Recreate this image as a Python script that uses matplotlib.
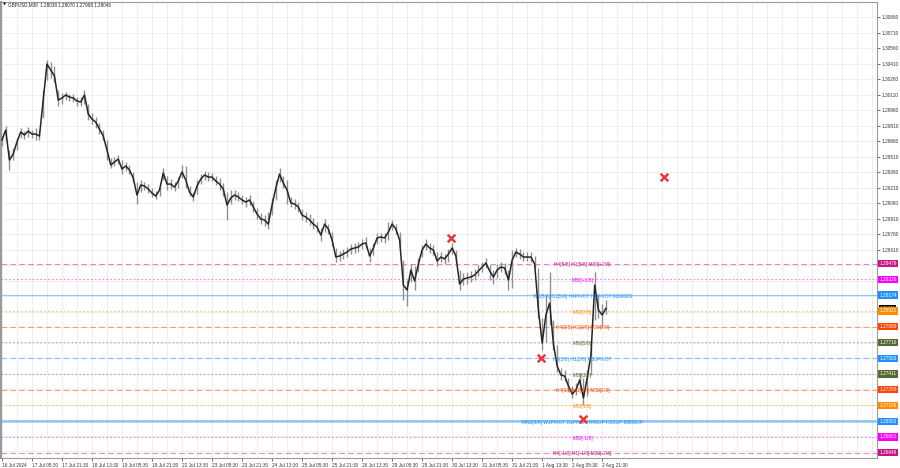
import matplotlib
matplotlib.use("Agg")
import matplotlib.pyplot as plt
import matplotlib.transforms as mtransforms

plt.rcParams['font.family'] = ['Liberation Sans', 'DejaVu Sans']

# chart header
symbol_info = "GBPUSD,M30  1.28038 1.28070 1.27998 1.28046"

# GBPUSD in groups of 4 x M30 bars (close, high, low)
closes = [
    1.29674, 1.29771, 1.29481, 1.29539, 1.29655, 1.29752, 1.29723, 1.29761, 1.29732, 1.29732,
    1.29713, 1.30061, 1.30410, 1.30352, 1.30294, 1.30061, 1.30081, 1.30110, 1.30090, 1.30081,
    1.30052, 1.30042, 1.30110, 1.29926, 1.29877, 1.29848, 1.29781, 1.29713, 1.29578, 1.29432,
    1.29461, 1.29490, 1.29394, 1.29423, 1.29384, 1.29307, 1.29142, 1.29239, 1.29229, 1.29200,
    1.29161, 1.29132, 1.29190, 1.29355, 1.29248, 1.29248, 1.29219, 1.29278, 1.29365, 1.29287,
    1.29171, 1.29123, 1.29229, 1.29297, 1.29336, 1.29316, 1.29316, 1.29278, 1.29248, 1.29200,
    1.29045, 1.29113, 1.29142, 1.29123, 1.29094, 1.29074, 1.29094, 1.29026, 1.28958, 1.28910,
    1.28900, 1.28861, 1.29045, 1.29210, 1.29345, 1.29258, 1.29190, 1.29065, 1.29055, 1.29026,
    1.28948, 1.28929, 1.28900, 1.28861, 1.28832, 1.28755, 1.28861, 1.28813, 1.28707, 1.28542,
    1.28552, 1.28571, 1.28590, 1.28619, 1.28629, 1.28639, 1.28668, 1.28678, 1.28552, 1.28629,
    1.28726, 1.28736, 1.28726, 1.28784, 1.28861, 1.28813, 1.28707, 1.28271, 1.28223, 1.28416,
    1.28310, 1.28474, 1.28610, 1.28668, 1.28629, 1.28610, 1.28503, 1.28542, 1.28523, 1.28571,
    1.28629, 1.28552, 1.28281, 1.28329, 1.28339, 1.28349, 1.28368, 1.28407, 1.28445, 1.28484,
    1.28407, 1.28349, 1.28416, 1.28445, 1.28436, 1.28319, 1.28513, 1.28590, 1.28571, 1.28542,
    1.28542, 1.28542, 1.28474, 1.28029, 1.27710, 1.27981, 1.28097, 1.27700, 1.27487, 1.27400,
    1.27390, 1.27294, 1.27216, 1.27255, 1.27352, 1.27178, 1.27371, 1.27594, 1.28271, 1.28029,
    1.27981, 1.28046,
]
highs = [
    1.29713, 1.29810, 1.29578, 1.29597, 1.29694, 1.29790, 1.29761, 1.29800, 1.29771, 1.29790,
    1.29771, 1.30158, 1.30448, 1.30429, 1.30390, 1.30158, 1.30129, 1.30139, 1.30119, 1.30119,
    1.30090, 1.30090, 1.30158, 1.30023, 1.29936, 1.29897, 1.29839, 1.29771, 1.29674, 1.29500,
    1.29510, 1.29529, 1.29481, 1.29461, 1.29432, 1.29365, 1.29268, 1.29287, 1.29268, 1.29248,
    1.29210, 1.29181, 1.29239, 1.29403, 1.29326, 1.29297, 1.29268, 1.29316, 1.29432, 1.29423,
    1.29229, 1.29171, 1.29287, 1.29345, 1.29374, 1.29365, 1.29355, 1.29326, 1.29307, 1.29258,
    1.29171, 1.29190, 1.29190, 1.29171, 1.29142, 1.29123, 1.29142, 1.29084, 1.29016, 1.28968,
    1.28948, 1.28978, 1.29113, 1.29287, 1.29403, 1.29326, 1.29287, 1.29123, 1.29103, 1.29074,
    1.29007, 1.28978, 1.28958, 1.28919, 1.28881, 1.28823, 1.28910, 1.28861, 1.28784, 1.28629,
    1.28600, 1.28619, 1.28639, 1.28668, 1.28678, 1.28687, 1.28716, 1.28736, 1.28629, 1.28678,
    1.28774, 1.28774, 1.28774, 1.28881, 1.28900, 1.28861, 1.28784, 1.28513, 1.28319, 1.28474,
    1.28455, 1.28532, 1.28658, 1.28716, 1.28678, 1.28658, 1.28590, 1.28590, 1.28571, 1.28619,
    1.28678, 1.28610, 1.28416, 1.28387, 1.28397, 1.28407, 1.28426, 1.28465, 1.28494, 1.28532,
    1.28465, 1.28416, 1.28474, 1.28494, 1.28484, 1.28416, 1.28610, 1.28629, 1.28619, 1.28590,
    1.28590, 1.28590, 1.28552, 1.28436, 1.27952, 1.28174, 1.28397, 1.27932, 1.27690, 1.27468,
    1.27449, 1.27371, 1.27294, 1.27323, 1.27420, 1.27371, 1.27449, 1.27690, 1.28397, 1.28174,
    1.28087, 1.28126,
]
lows = [
    1.29616, 1.29674, 1.29384, 1.29481, 1.29578, 1.29694, 1.29684, 1.29703, 1.29694, 1.29674,
    1.29674, 1.29887, 1.30255, 1.30274, 1.30236, 1.30003, 1.30023, 1.30061, 1.30052, 1.30042,
    1.30003, 1.30003, 1.30023, 1.29868, 1.29829, 1.29790, 1.29732, 1.29674, 1.29481, 1.29403,
    1.29423, 1.29442, 1.29345, 1.29374, 1.29345, 1.29268, 1.29055, 1.29171, 1.29190, 1.29161,
    1.29123, 1.29103, 1.29132, 1.29287, 1.29190, 1.29200, 1.29181, 1.29210, 1.29307, 1.29210,
    1.29132, 1.29084, 1.29152, 1.29248, 1.29287, 1.29278, 1.29278, 1.29239, 1.29190, 1.29132,
    1.28900, 1.29055, 1.29094, 1.29084, 1.29055, 1.29026, 1.29045, 1.28978, 1.28910, 1.28861,
    1.28842, 1.28813, 1.28948, 1.29094, 1.29268, 1.29210, 1.29055, 1.29026, 1.29007, 1.28978,
    1.28900, 1.28881, 1.28852, 1.28813, 1.28784, 1.28697, 1.28784, 1.28765, 1.28649, 1.28494,
    1.28503, 1.28523, 1.28542, 1.28571, 1.28581, 1.28590, 1.28619, 1.28629, 1.28494, 1.28561,
    1.28668, 1.28687, 1.28678, 1.28707, 1.28803, 1.28765, 1.28649, 1.28126, 1.28068, 1.28300,
    1.28223, 1.28397, 1.28542, 1.28610, 1.28581, 1.28561, 1.28455, 1.28494, 1.28474, 1.28494,
    1.28571, 1.28494, 1.28223, 1.28271, 1.28281, 1.28300, 1.28319, 1.28358, 1.28397, 1.28436,
    1.28319, 1.28281, 1.28339, 1.28397, 1.28378, 1.28223, 1.28242, 1.28542, 1.28523, 1.28503,
    1.28503, 1.28494, 1.28436, 1.27952, 1.27642, 1.27720, 1.27884, 1.27642, 1.27429, 1.27352,
    1.27342, 1.27236, 1.27178, 1.27207, 1.27255, 1.27110, 1.27197, 1.27400, 1.27932, 1.27952,
    1.27874, 1.27990,
]
bars_per_group = 4

date_labels = [
    "16 Jul 2024", "17 Jul 05:30", "17 Jul 21:30", "18 Jul 13:30", "19 Jul 05:30",
    "19 Jul 21:30", "22 Jul 13:30", "23 Jul 05:30", "23 Jul 21:30", "24 Jul 13:30",
    "25 Jul 05:30", "25 Jul 21:30", "26 Jul 13:30", "29 Jul 05:30", "29 Jul 21:30",
    "30 Jul 13:30", "31 Jul 05:30", "31 Jul 21:30", "1 Aug 13:30", "2 Aug 05:30",
    "2 Aug 21:30",
]
bars_per_label = 32

# Murrey math levels
level_prices = [1.28479, 1.28326, 1.28174, 1.28021, 1.27869, 1.27716, 1.27563,
                1.27411, 1.27258, 1.27106, 1.26953, 1.26801, 1.26648]
level_names = [
    "H4[5/8] H1[5/8] M30[+2/8]",
    "M30[+1/8]",
    "W1[5/8] D1[5/8] H4PIVOT H1PIVOT M30RES",
    "M30[7/8]",
    "H4[3/8] H1[3/8] M30[6/8]",
    "M30[5/8]",
    "H4[2/8] H1[2/8] M30PIVOT",
    "M30[3/8]",
    "H4[1/8] H1[1/8] M30[2/8]",
    "M30[1/8]",
    "MN1[6/8] W1PIVOT D1PIVOT H4SUP H1SUP M30SUP",
    "M30[-1/8]",
    "H4[-1/8] H1[-1/8] M30[-2/8]",
]
level_kinds = ["extreme", "overshoot", "res", "weak", "reversal", "minor", "mid",
               "minor", "reversal", "weak", "sup", "overshoot", "extreme"]

# signal crosses (bar index, price)
signal_bars = [479, 575, 706, 620]
signal_prices = [1.28726, 1.27565, 1.29316, 1.26974]

current_price = 1.28046

# price ticks shown on the right scale
first_tick = 1.28610
tick_step = 0.0015


# style per kind: colour, linestyle, width
kind_style = {
    "extreme": ("#c71585", (0, (5, 3)), 0.8),
    "overshoot": ("#ff00ff", (0, (1.5, 2)), 0.8),
    "res": ("#1e90ff", "-", 0.8),
    "weak": ("#ff8c00", (0, (1.5, 2)), 0.8),
    "reversal": ("#ff4500", (0, (5, 3)), 0.8),
    "minor": ("#556b2f", (0, (1.5, 2)), 0.8),
    "mid": ("#1e90ff", (0, (5, 3)), 0.8),
    "sup": ("#1e90ff", "-", 1.8),
}

fig = plt.figure(figsize=(9, 4.68), dpi=100)
ax = fig.add_axes([1 / 900, 10 / 468, 876 / 900, 456 / 468])

y_min, y_max = 1.26597, 1.31010
x_min, x_max = -1, 933
ax.set_xlim(x_min, x_max)
ax.set_ylim(y_min, y_max)

# grid
for b in range(0, x_max, 16):
    ax.axvline(b, color="#ebebeb", lw=0.6, zorder=0)
grid_prices = []
p = first_tick
while p > y_min:
    grid_prices.append(p)
    p -= tick_step
p = first_tick + tick_step
while p < y_max:
    grid_prices.append(p)
    p += tick_step
for gp in grid_prices:
    ax.axhline(gp, color="#ebebeb", lw=0.6, zorder=0)

# levels
label_bar = 619
for price, name, kind in zip(level_prices, level_names, level_kinds):
    col, ls, lw = kind_style[kind]
    ax.axhline(price, color=col, ls=ls, lw=lw, alpha=0.5, zorder=1)
    ax.text(label_bar, price - 0.00012, name, color=col, fontsize=3.5,
            ha="center", va="center", zorder=4)

# price bars
bar_x = [i * bars_per_group for i in range(len(closes))]
ax.vlines(bar_x, lows, highs, color="#8f8f8f", lw=1.0, zorder=2)
ax.plot(bar_x, closes, color="#262626", lw=1.1, zorder=3)

# signals
ax.scatter(signal_bars, signal_prices, marker="x", s=30, color="#e8383d",
           linewidths=1.8, zorder=5)

# axes styling
for side in ["left", "top", "right", "bottom"]:
    ax.spines[side].set_color("#9a9a9a")
    ax.spines[side].set_linewidth(0.8)
ax.spines["left"].set_linewidth(1.5)

ax.yaxis.tick_right()
ax.set_yticks(grid_prices)
ax.set_yticklabels(["%.5f" % gp if gp > first_tick - 1e-6 else "" for gp in grid_prices])
ax.tick_params(axis="y", length=2, width=0.5, pad=1.5, labelsize=3.4, colors="#333333")

ax.set_xticks([i * bars_per_label for i in range(len(date_labels))])
ax.set_xticklabels(date_labels, ha="left")
ax.tick_params(axis="x", length=2, width=0.5, pad=1.5, labelsize=3.4, colors="#333333")

# level price boxes on the scale (current price sits just behind the M30[7/8] box)
trans = mtransforms.blended_transform_factory(ax.transAxes, ax.transData)
ax.text(1.003, current_price + 0.00004, "%.5f" % current_price, transform=trans, color="white",
        fontsize=3.2, va="center", ha="left", clip_on=False,
        bbox=dict(boxstyle="square,pad=0.2", fc="black", ec="none"))
for price, kind in zip(level_prices, level_kinds):
    col = kind_style[kind][0]
    ax.text(1.003, price, "%.5f" % price, transform=trans, color="white",
            fontsize=3.4, va="center", ha="left", clip_on=False,
            bbox=dict(boxstyle="square,pad=0.25", fc=col, ec="none"))

# header
fig.text(3 / 900, 1 - 5 / 468, "\u25bc", fontsize=3, va="center", ha="left", color="#222222",
         family=["DejaVu Sans"])
fig.text(8 / 900, 1 - 5 / 468, symbol_info, fontsize=3.3, va="center", ha="left", color="#222222")

fig.savefig("out.png", dpi=100)
